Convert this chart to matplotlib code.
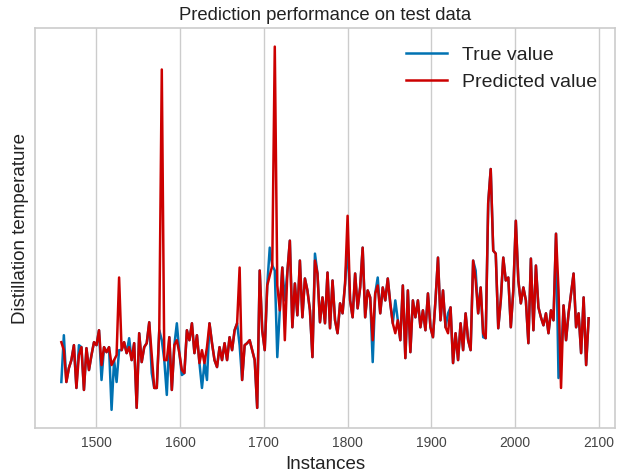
import numpy as np
import matplotlib
matplotlib.use("Agg")
import matplotlib.pyplot as plt

# данные: температура (без шкалы на оси Y), шаг 3 экземпляра
start_instance = 1458
step = 3

pred_temp = [
    88, 80, 48, 62, 70, 85, 42, 75, 83, 40, 82, 60, 75, 88, 85, 100, 65, 83, 78, 83,
    65, 70, 75, 153, 80, 88, 77, 83, 70, 87, 22, 97, 68, 83, 87, 108, 75, 42, 42, 100,
    362, 70, 70, 93, 40, 85, 90, 77, 60, 57, 100, 90, 107, 77, 95, 67, 80, 67, 83, 107,
    87, 70, 63, 83, 70, 87, 70, 93, 80, 100, 107, 163, 50, 85, 87, 90, 80, 70, 22, 160,
    100, 80, 145, 155, 165, 385, 145, 120, 163, 90, 158, 190, 103, 147, 115, 170, 113, 152, 140, 120,
    73, 170, 157, 108, 133, 107, 158, 102, 150, 110, 97, 127, 117, 147, 215, 130, 113, 157, 122, 143,
    183, 113, 140, 133, 90, 137, 145, 117, 143, 130, 152, 127, 107, 97, 110, 90, 145, 72, 140, 78,
    130, 113, 130, 103, 120, 100, 137, 103, 93, 130, 173, 110, 140, 103, 97, 123, 67, 97, 70, 107,
    80, 117, 90, 80, 170, 150, 117, 143, 97, 92, 228, 262, 180, 177, 102, 130, 173, 150, 153, 103,
    140, 210, 150, 127, 143, 130, 87, 172, 100, 165, 123, 113, 105, 117, 97, 120, 110, 197, 140, 42,
    125, 90, 117, 137, 157, 103, 117, 77, 133, 65, 112,
]

true_temp = [
    48, 95, 48, 62, 70, 85, 42, 85, 83, 40, 82, 60, 75, 88, 85, 100, 50, 83, 78, 83,
    20, 70, 48, 80, 80, 88, 77, 92, 70, 87, 22, 97, 68, 83, 87, 108, 57, 42, 42, 100,
    90, 70, 35, 93, 40, 85, 107, 77, 55, 57, 100, 90, 107, 77, 95, 67, 42, 67, 50, 107,
    87, 70, 63, 83, 70, 87, 70, 93, 80, 100, 107, 85, 50, 85, 87, 90, 80, 70, 22, 160,
    100, 80, 145, 183, 165, 160, 73, 120, 163, 130, 158, 190, 103, 147, 115, 170, 113, 152, 140, 120,
    73, 177, 157, 108, 133, 107, 158, 102, 150, 110, 97, 127, 117, 147, 185, 130, 113, 157, 122, 143,
    183, 113, 140, 133, 68, 137, 153, 117, 143, 130, 152, 127, 107, 130, 110, 90, 145, 72, 140, 78,
    130, 113, 130, 103, 120, 100, 137, 103, 93, 130, 173, 110, 140, 103, 117, 123, 67, 97, 70, 107,
    80, 117, 90, 80, 170, 160, 117, 143, 93, 92, 228, 262, 180, 177, 102, 130, 173, 150, 153, 103,
    140, 210, 150, 127, 143, 130, 87, 172, 100, 165, 123, 113, 105, 117, 97, 120, 110, 197, 52, 70,
    125, 90, 117, 137, 157, 103, 117, 77, 133, 65, 112,
]

instances = start_instance + step * np.arange(len(pred_temp))

plt.rcParams['font.family'] = ['Liberation Sans', 'DejaVu Sans']

fig, ax = plt.subplots(figsize=(6.36, 4.74), dpi=100)

ax.plot(instances, true_temp, color='#0072B2', lw=1.8, label='True value')
ax.plot(instances, pred_temp, color='#CC0000', lw=1.8, label='Predicted value')

ax.set_title("Prediction performance on test data", fontsize=13.3, color='#222222')
ax.set_xlabel("Instances", fontsize=13.5, color='#222222')
ax.set_ylabel("Distillation temperature", fontsize=13.5, color='#222222')
ax.set_yticks([])
ax.set_xticks([1500, 1600, 1700, 1800, 1900, 2000, 2100])
ax.tick_params(axis='x', length=0, labelsize=10, colors='#444444', pad=6)
ax.grid(True, axis='x', color='#cccccc', lw=1)
ax.set_axisbelow(True)
for s in ax.spines.values():
    s.set_color('#cccccc')
    s.set_linewidth(1.2)

leg = ax.legend(loc='upper right', fontsize=14, frameon=False, handlelength=2.1)
for t in leg.get_texts():
    t.set_color('#222222')

plt.subplots_adjust(left=0.055, right=0.967, top=0.94, bottom=0.097)
plt.savefig('out.png', dpi=100)
